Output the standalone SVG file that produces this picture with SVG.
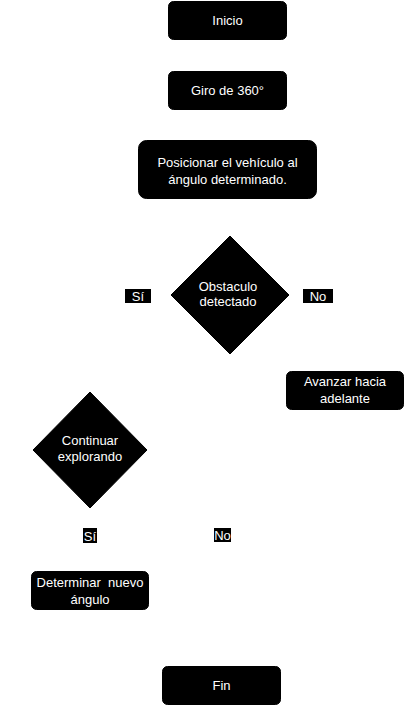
<svg xmlns="http://www.w3.org/2000/svg" width="406" height="706" viewBox="0 0 406 706">
<style>
.box{fill:#000;stroke:#000;stroke-width:1}
.t{font-family:"Liberation Sans",Arial,sans-serif;font-size:13px;fill:#fff;text-anchor:middle;white-space:pre}
.lbl{fill:#000}
</style>
<rect width="406" height="706" fill="#fff"/>
<g id="connectors"></g>
<g id="inicio"><rect class="box" x="168.5" y="1.5" width="118" height="38" rx="5"/><text class="t" x="227.5" y="25">Inicio</text></g>
<g id="giro"><rect class="box" x="168.5" y="71.5" width="118" height="38" rx="5"/><text class="t" x="227.5" y="95">Giro de 360°</text></g>
<g id="posicionar"><rect class="box" x="138.5" y="140.5" width="178" height="58" rx="8"/><text class="t" x="227.5" y="166.5">Posicionar el vehículo al</text><text class="t" x="227.5" y="183.5">ángulo determinado.</text></g>
<g id="obstaculo"><polygon class="box" points="230,236 289,295 230,354 171,295"/><text class="t" x="228" y="290.5">Obstaculo</text><text class="t" x="228" y="305.5">detectado</text></g>
<g id="si1"><rect class="lbl" x="125" y="289" width="26" height="14"/><text class="t" x="138" y="301">Sí</text></g>
<g id="no1"><rect class="lbl" x="303" y="289" width="30" height="14"/><text class="t" x="318" y="301">No</text></g>
<g id="avanzar"><rect class="box" x="286.5" y="371.5" width="117" height="38" rx="5"/><text class="t" x="345" y="386">Avanzar hacia</text><text class="t" x="345" y="403">adelante</text></g>
<g id="continuar"><polygon class="box" points="90,392 147,450 90,508 33,450"/><text class="t" x="90" y="444.5">Continuar</text><text class="t" x="90" y="460.5">explorando</text></g>
<g id="si2"><rect class="lbl" x="83" y="528" width="14" height="15"/><text class="t" x="90" y="540.5">Sí</text></g>
<g id="no2"><rect class="lbl" x="214" y="528" width="17" height="14"/><text class="t" x="222.5" y="540">No</text></g>
<g id="determinar"><rect class="box" x="31.5" y="571.5" width="117" height="38" rx="5"/><text class="t" x="90" y="586.5">Determinar  nuevo</text><text class="t" x="90" y="603.5">ángulo</text></g>
<g id="fin"><rect class="box" x="162.5" y="666.5" width="118" height="38" rx="5"/><text class="t" x="221.5" y="690">Fin</text></g>
</svg>
